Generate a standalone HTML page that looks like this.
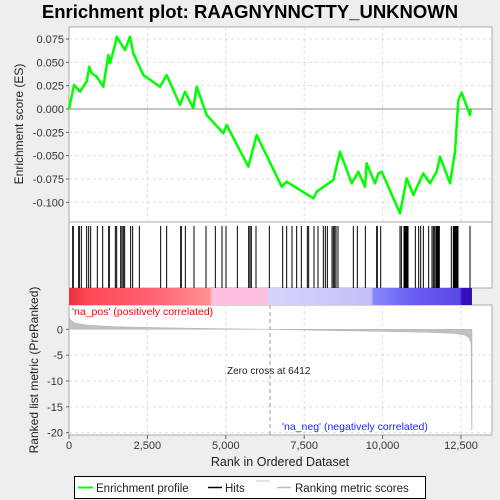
<!DOCTYPE html>
<html><head><meta charset="utf-8"><style>
html,body{margin:0;padding:0;background:#eeeeee;}
svg{display:block;font-family:"Liberation Sans",sans-serif;}
</style></head><body>
<svg id="chart" width="500" height="500">
<defs>
<linearGradient id="cb" x1="0" x2="1" y1="0" y2="0">
<stop offset="0" stop-color="#e83040"/><stop offset="0.05" stop-color="#ff4a55"/>
<stop offset="0.2" stop-color="#ff6070"/><stop offset="0.35" stop-color="#ff9090"/>
<stop offset="0.355" stop-color="#ffc0e0"/><stop offset="0.49" stop-color="#ffc0e0"/>
<stop offset="0.495" stop-color="#d4d4fc"/><stop offset="0.75" stop-color="#c4c0f8"/>
<stop offset="0.755" stop-color="#8888fc"/><stop offset="0.85" stop-color="#6a5ef0"/>
<stop offset="0.97" stop-color="#5a48e8"/><stop offset="0.975" stop-color="#3010c0"/><stop offset="1" stop-color="#3010b0"/>
</linearGradient>
</defs>
<text x="250" y="18" text-anchor="middle" font-size="18.5" font-weight="bold">Enrichment plot: RAAGNYNNCTTY_UNKNOWN</text>
<g id="g"></g>
</svg>
<script>
const esRanks=[0,159,351,563,648,723,882,1095,1254,1307,1467,1520,1786,1945,2052,2371,2902,3114,3540,3699,3964,4071,4390,4921,5027,5718,5984,6782,6941,7791,7898,8429,8641,9014,9227,9439,9492,9758,9865,9971,10555,10768,10980,11299,11512,11725,11831,12150,12309,12415,12521,12787,12809];
const esValues=[0,0.0257,0.0186,0.0293,0.0454,0.0382,0.0347,0.0239,0.0579,0.049,0.0686,0.0775,0.0632,0.0775,0.0597,0.0364,0.0239,0.0364,0.0043,0.0186,0.0007,0.0239,-0.0064,-0.026,-0.017,-0.0618,-0.0279,-0.0833,-0.0779,-0.0957,-0.0886,-0.0761,-0.0458,-0.0797,-0.0672,-0.0833,-0.0582,-0.0797,-0.069,-0.0672,-0.1118,-0.0743,-0.0922,-0.069,-0.0797,-0.0672,-0.0511,-0.0797,-0.0458,0.0096,0.0175,-0.0064,0];
const hitRanks=[117,138,308,330,393,563,627,691,903,1074,1265,1286,1477,1520,1648,1690,1733,1775,1966,2030,2243,2923,3114,3561,3582,3710,3986,4369,4666,4879,5006,5368,5729,5772,5814,5963,6388,6813,6941,7111,7260,7409,7600,7643,7812,7940,8110,8174,8238,8387,8429,8472,8514,8578,9067,9194,9450,9811,9832,9939,10555,10598,10683,10705,10726,10747,10768,10790,10811,11044,11150,11214,11299,11469,11575,11618,11660,11703,11724,11745,11767,11788,11809,12192,12256,12277,12298,12320,12341,12362,12383,12404,12787];
const metricRanks=[0,50,200,600,1500,3000,4500,6412,8000,10000,11500,12300,12600,12750,12820,12840,12850];
const metricValues=[2.6,1.8,1.2,0.8,0.5,0.3,0.15,0,-0.2,-0.4,-0.6,-0.8,-1.1,-1.6,-2.6,-19.5,-19.5];
const xTicks=[0,2500,5000,7500,10000,12500];
const xTickLabels=["0","2,500","5,000","7,500","10,000","12,500"];
const esTicks=[0.075,0.05,0.025,0,-0.025,-0.05,-0.075,-0.1];
const esTickLabels=["0.075","0.050","0.025","0.000","-0.025","-0.050","-0.075","-0.100"];
const mTicks=[0,-5,-10,-15,-20];
const NS="http://www.w3.org/2000/svg";
const g=document.getElementById('g');
const L=69,R=492;
const x=r=>L+r*0.03136;
const yES=v=>109-v*933;
const yM=v=>329.3-v*5.17;
function el(t,a,p){const e=document.createElementNS(NS,t);for(const k in a)e.setAttribute(k,a[k]);(p||g).appendChild(e);return e;}
// panels
let p1=el('rect',{x:L,y:27,width:R-L,height:195,fill:'#fff',stroke:'#aaa'});


let p2=el('rect',{x:L,y:222,width:R-L,height:66,fill:'#fff',stroke:'#aaa'});


let p3=el('rect',{x:L,y:305,width:R-L,height:130,fill:'#fff',stroke:'#aaa'});


// grids
xTicks.forEach(t=>{
 if(t>0){el('line',{x1:x(t),x2:x(t),y1:27,y2:222,stroke:'#ddd','stroke-dasharray':'3,3'});
 el('line',{x1:x(t),x2:x(t),y1:305,y2:435,stroke:'#ddd','stroke-dasharray':'3,3'});}
});
esTicks.forEach((t,i)=>{
 if(t!==0)el('line',{x1:L,x2:R,y1:yES(t),y2:yES(t),stroke:'#ddd','stroke-dasharray':'3,3'});
 el('line',{x1:L-3,x2:L,y1:yES(t),y2:yES(t),stroke:'#666'});
 const tx=el('text',{x:L-5,y:yES(t)+4,'text-anchor':'end','font-size':11,fill:'#333'});tx.textContent=esTickLabels[i];
 
 
});
el('line',{x1:L,x2:R,y1:yES(0),y2:yES(0),stroke:'#888'});
mTicks.forEach(t=>{
 if(t!==0)el('line',{x1:L,x2:R,y1:yM(t),y2:yM(t),stroke:'#ddd','stroke-dasharray':'3,3'});
 el('line',{x1:L-3,x2:L,y1:yM(t),y2:yM(t),stroke:'#666'});
 const tx=el('text',{x:L-6,y:yM(t)+4,'text-anchor':'end','font-size':11,fill:'#333'});tx.textContent=String(t);
 
 
});
// metric area
let d='M'+x(metricRanks[0])+','+yM(0);
metricRanks.forEach((r,i)=>{d+=' L'+x(r)+','+yM(metricValues[i]);});
d+=' L'+x(metricRanks[metricRanks.length-1])+','+yM(0)+' Z';
const ma=el('path',{d:d,fill:'#c0c0c0',stroke:'#b0b0b0','stroke-width':0.5});


// zero cross
el('line',{x1:x(6412),x2:x(6412),y1:305,y2:435,stroke:'#999','stroke-dasharray':'4,3'});
el('line',{x1:x(6412),x2:x(6412),y1:288,y2:305,stroke:'#999','stroke-dasharray':'4,3'});
let zt=el('text',{x:227,y:374,'font-size':10,fill:'#222'});zt.textContent='Zero cross at 6412';


let pt=el('text',{x:72,y:315,'font-size':10.5,fill:'#f00'});pt.textContent="'na_pos' (positively correlated)";


let nt=el('text',{x:282,y:430,'font-size':10.5,fill:'#22f'});nt.textContent="'na_neg' (negatively correlated)";


// color bar
const cb=el('rect',{x:L,y:288,width:x(12850)-L,height:17,fill:'url(#cb)'});


// hits
hitRanks.forEach(r=>{
 const h=el('line',{x1:x(r),x2:x(r),y1:226,y2:288,stroke:'#000','stroke-width':1});
 
 
});
// ES line
const pts=esRanks.map((r,i)=>x(r)+','+yES(esValues[i])).join(' ');
const pl=el('polyline',{points:pts,fill:'none',stroke:'#00ff00','stroke-width':2.5,'stroke-linejoin':'round'});


// x ticks
xTicks.forEach((t,i)=>{
 el('line',{x1:x(t),x2:x(t),y1:435,y2:439,stroke:'#666'});
 const tx=el('text',{x:x(t),y:449,'text-anchor':'middle','font-size':11,fill:'#333'});tx.textContent=xTickLabels[i];
 
 
});
let xt=el('text',{x:280,y:466,'text-anchor':'middle','font-size':12.5,fill:'#222'});xt.textContent='Rank in Ordered Dataset';


let yt1=el('text',{x:0,y:0,'text-anchor':'middle','font-size':12,fill:'#222',transform:'translate(23,124) rotate(-90)'});yt1.textContent='Enrichment score (ES)';


let yt2=el('text',{x:0,y:0,'text-anchor':'middle','font-size':12,fill:'#222',transform:'translate(38,370) rotate(-90)'});yt2.textContent='Ranked list metric (PreRanked)';


// legend
const lg=el('g',{});


el('rect',{x:74.5,y:476.5,width:351,height:22,fill:'#fff',stroke:'#000'},lg);
el('line',{x1:78,x2:93,y1:487.5,y2:487.5,stroke:'#00ff00','stroke-width':2},lg);
let l1=el('text',{x:96,y:492,'font-size':11.5,fill:'#222'},lg);l1.textContent='Enrichment profile';
el('line',{x1:208,x2:222,y1:487.5,y2:487.5,stroke:'#000','stroke-width':1.5},lg);
let l2=el('text',{x:225,y:492,'font-size':11.5,fill:'#222'},lg);l2.textContent='Hits';
el('line',{x1:256,x2:270,y1:481,y2:481,stroke:'#ccc'},lg);
el('line',{x1:277,x2:291,y1:487.5,y2:487.5,stroke:'#bbb','stroke-width':1.5},lg);
let l3=el('text',{x:295,y:492,'font-size':11.5,fill:'#222'},lg);l3.textContent='Ranking metric scores';
</script>
</body></html>
